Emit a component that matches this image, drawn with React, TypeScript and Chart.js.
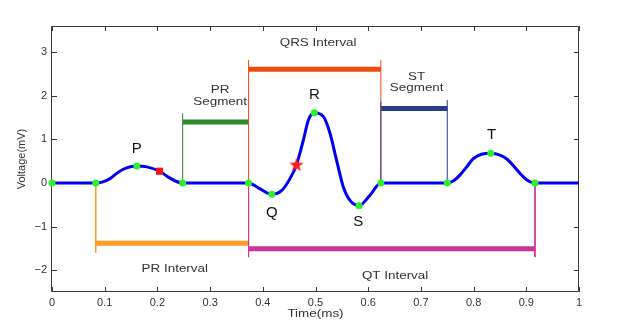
import React, { useEffect, useRef } from 'react';
import { Chart, registerables } from 'chart.js';

Chart.register(...registerables);

// ECG trace (time in ms-axis units, voltage in mV)
const ecgTime = [0, 0.083, 0.095, 0.11, 0.125, 0.14, 0.161, 0.18, 0.204, 0.22, 0.235, 0.248, 0.373, 0.3915, 0.417, 0.436, 0.4516, 0.464, 0.4769, 0.4864, 0.4977, 0.515, 0.5275, 0.54, 0.5528, 0.5655, 0.5825, 0.6034, 0.624, 0.75, 0.762, 0.774, 0.787, 0.7995, 0.815, 0.8325, 0.85, 0.863, 0.876, 0.888, 0.9, 0.9165, 1];
const ecgVoltage = [0, 0, 0.02, 0.1, 0.24, 0.34, 0.39, 0.37, 0.27, 0.14, 0.04, 0, 0, -0.11, -0.26, -0.17, 0.1, 0.42, 0.98, 1.44, 1.61, 1.52, 1.14, 0.52, -0.09, -0.4, -0.52, -0.28, 0, 0, 0.05, 0.18, 0.37, 0.56, 0.66, 0.68, 0.64, 0.55, 0.39, 0.22, 0.08, 0, 0];

// Key points (green dots)
const keyTime = [0, 0.083, 0.161, 0.248, 0.373, 0.417, 0.4977, 0.5825, 0.624, 0.75, 0.8325, 0.9165];
const keyVoltage = [0, 0, 0.39, 0, 0, -0.26, 1.61, -0.52, 0, 0, 0.68, 0];

// Special markers
const squareTime = [0.204];
const squareVoltage = [0.27];
const starTime = [0.464];
const starVoltage = [0.42];

// Bracket bars
const barStart = [0.248, 0.373, 0.624, 0.083, 0.373];
const barEnd = [0.373, 0.624, 0.75, 0.373, 0.9165];
const barLevel = [1.4, 2.61, 1.71, -1.38, -1.51];

// Bracket end lines
const stemX = [0.248, 0.373, 0.624, 0.624, 0.75, 0.083, 0.373, 0.9165];
const stemFrom = [0, 0, 0, 0, 0, 0, 0, 0];
const stemTo = [1.6, 2.82, 2.82, 1.86, 1.9, -1.6, -1.7, -1.7];
const stemBar = [0, 1, 1, 2, 2, 3, 4, 4];

// Tick values
const xTicks = [0, 0.1, 0.2, 0.3, 0.4, 0.5, 0.6, 0.7, 0.8, 0.9, 1];
const yTicks = [-2, -1, 0, 1, 2, 3];

// Texts
const waveLetters = ['P', 'Q', 'R', 'S', 'T'];
const waveLetterTime = [0.161, 0.417, 0.498, 0.581, 0.834];
const waveLetterVoltage = [0.79, -0.68, 2.02, -0.9, 1.1];

const noteTexts = ['PR\nSegment', 'QRS Interval', 'ST\nSegment', 'PR Interval', 'QT Interval'];
const noteTime = [0.319, 0.505, 0.692, 0.233, 0.651];
const noteVoltage = [2.13, 3.21, 2.44, -1.97, -2.14];

const xTitle = 'Time(ms)';
const yTitle = 'Voltage(mV)';

const FONT = '"Liberation Sans", Arial, Helvetica, sans-serif';
const barColors = ['#2b8a2b', '#f04a0c', '#2a3d8c', '#ff9a22', '#cf3598'];
const TEXT_STRETCH = 1.22;

function pts(xs: number[], ys: number[]) {
  return xs.map((x, i) => ({ x, y: ys[i] }));
}

function makeStar(): HTMLCanvasElement {
  const c = document.createElement('canvas');
  c.width = 16;
  c.height = 16;
  const g = c.getContext('2d')!;
  g.beginPath();
  const cx = 8, cy = 8.5, R = 7.5, r = 3;
  for (let i = 0; i < 10; i++) {
    const a = -Math.PI / 2 + (i * Math.PI) / 5;
    const rr = i % 2 === 0 ? R : r;
    const px = cx + rr * Math.cos(a);
    const py = cy + rr * Math.sin(a);
    if (i === 0) g.moveTo(px, py);
    else g.lineTo(px, py);
  }
  g.closePath();
  g.fillStyle = '#ff1a1a';
  g.fill();
  return c;
}

function stretchedText(ctx: CanvasRenderingContext2D, text: string, x: number, y: number) {
  ctx.save();
  ctx.translate(x, y);
  ctx.scale(TEXT_STRETCH, 1);
  ctx.fillText(text, 0, 0);
  ctx.restore();
}

const annotate = {
  id: 'annotate',
  beforeDatasetsDraw(chart: any) {
    const { ctx, chartArea } = chart;
    const xs = chart.scales.x;
    const ys = chart.scales.y;
    const { left, right, top, bottom } = chartArea;
    ctx.save();
    ctx.strokeStyle = '#3a3a3a';
    ctx.lineWidth = 1;
    ctx.beginPath();
    ctx.rect(Math.round(left) - 0.5, Math.round(top) + 0.5, Math.round(right - left), Math.round(bottom - top) - 1);
    ctx.stroke();
    ctx.beginPath();
    xTicks.forEach((v) => {
      const px = Math.round(xs.getPixelForValue(v)) + 0.5;
      ctx.moveTo(px, bottom);
      ctx.lineTo(px, bottom - 5);
      ctx.moveTo(px, top);
      ctx.lineTo(px, top + 5);
    });
    yTicks.forEach((v) => {
      const py = Math.round(ys.getPixelForValue(v)) + 0.5;
      ctx.moveTo(left, py);
      ctx.lineTo(left + 5, py);
      ctx.moveTo(right, py);
      ctx.lineTo(right - 5, py);
    });
    ctx.stroke();
    ctx.restore();
  },
  afterDraw(chart: any) {
    const { ctx, chartArea } = chart;
    const xs = chart.scales.x;
    const ys = chart.scales.y;
    ctx.save();
    ctx.textAlign = 'center';
    ctx.textBaseline = 'middle';
    ctx.fillStyle = '#111';
    ctx.font = `15px ${FONT}`;
    waveLetters.forEach((t, i) => {
      ctx.fillText(t, xs.getPixelForValue(waveLetterTime[i]), ys.getPixelForValue(waveLetterVoltage[i]));
    });
    ctx.fillStyle = '#333';
    ctx.font = `11px ${FONT}`;
    noteTexts.forEach((t, i) => {
      const lines = t.split('\n');
      const px = xs.getPixelForValue(noteTime[i]);
      const py = ys.getPixelForValue(noteVoltage[i]);
      lines.forEach((ln, j) => stretchedText(ctx, ln, px, py + j * 11.7));
    });
    stretchedText(ctx, xTitle, (chartArea.left + chartArea.right) / 2, 313.5);
    ctx.translate(22, (chartArea.top + chartArea.bottom) / 2);
    ctx.rotate(-Math.PI / 2);
    ctx.fillText(yTitle, 0, 0);
    ctx.restore();
  },
};

export default function App() {
  const ref = useRef<HTMLCanvasElement | null>(null);
  useEffect(() => {
    if (!ref.current) return;
    const star = makeStar();
    const datasets: any[] = [];
    datasets.push({
      data: pts(starTime, starVoltage),
      showLine: false,
      pointStyle: star,
      pointRadius: 8,
      clip: false,
    });
    datasets.push({
      data: pts(squareTime, squareVoltage),
      showLine: false,
      pointStyle: 'rect',
      pointRadius: 5,
      pointBackgroundColor: '#ff1010',
      pointBorderWidth: 0,
      clip: false,
    });
    datasets.push({
      data: pts(keyTime, keyVoltage),
      showLine: false,
      pointRadius: 3.5,
      pointBackgroundColor: '#2cf02c',
      pointBorderWidth: 0,
      clip: false,
    });
    datasets.push({
      data: pts(ecgTime, ecgVoltage),
      borderColor: '#0000f5',
      borderWidth: 3,
      pointRadius: 0,
      cubicInterpolationMode: 'monotone',
      clip: false,
    });
    // blue ST stems first so they sit above the orange QRS stem
    const stemIdx = stemX.map((_, i) => i).sort((a, b) => (stemBar[a] === 2 ? 0 : 1) - (stemBar[b] === 2 ? 0 : 1));
    stemIdx.forEach((i) => {
      datasets.push({
        data: [
          { x: stemX[i], y: stemFrom[i] },
          { x: stemX[i], y: stemTo[i] },
        ],
        borderColor: barColors[stemBar[i]],
        borderWidth: 1,
        pointRadius: 0,
        clip: false,
      });
    });
    barStart.forEach((s, i) => {
      datasets.push({
        data: [
          { x: s, y: barLevel[i] },
          { x: barEnd[i], y: barLevel[i] },
        ],
        borderColor: barColors[i],
        borderWidth: 5,
        borderCapStyle: 'butt',
        pointRadius: 0,
      });
    });

    const chart = new Chart(ref.current, {
      type: 'line',
      data: { datasets },
      options: {
        responsive: false,
        animation: false,
        events: [],
        layout: { padding: { left: 0, right: 40, top: 26, bottom: 0 } },
        plugins: { legend: { display: false }, tooltip: { enabled: false } },
        scales: {
          x: {
            type: 'linear',
            min: 0,
            max: 1,
            grid: { display: false, drawTicks: false },
            border: { display: false },
            ticks: {
              autoSkip: false,
              maxRotation: 0,
              padding: 4,
              color: '#333',
              font: { family: FONT, size: 11 },
              callback: (v: any) => String(Math.round(Number(v) * 10) / 10),
            },
            afterBuildTicks: (s: any) => {
              s.ticks = xTicks.map((v) => ({ value: v }));
            },
            afterFit: (s: any) => {
              s.height = 38;
            },
          },
          y: {
            type: 'linear',
            min: -2.5,
            max: 3.6,
            grid: { display: false, drawTicks: false },
            border: { display: false },
            ticks: {
              padding: 5,
              color: '#333',
              font: { family: FONT, size: 11 },
              callback: (v: any) => (Number(v) < 0 ? '\u2212' + Math.abs(Number(v)) : String(v)),
            },
            afterBuildTicks: (s: any) => {
              s.ticks = yTicks.map((v) => ({ value: v }));
            },
            afterFit: (s: any) => {
              s.width = 52;
            },
          },
        },
      },
      plugins: [annotate],
    });
    return () => chart.destroy();
  }, []);

  return (
    <div style={{ position: 'fixed', left: 0, top: 0, width: 619, height: 330, background: '#fff' }}>
      <canvas ref={ref} width={619} height={330} style={{ width: 619, height: 330, display: 'block' }} />
    </div>
  );
}
